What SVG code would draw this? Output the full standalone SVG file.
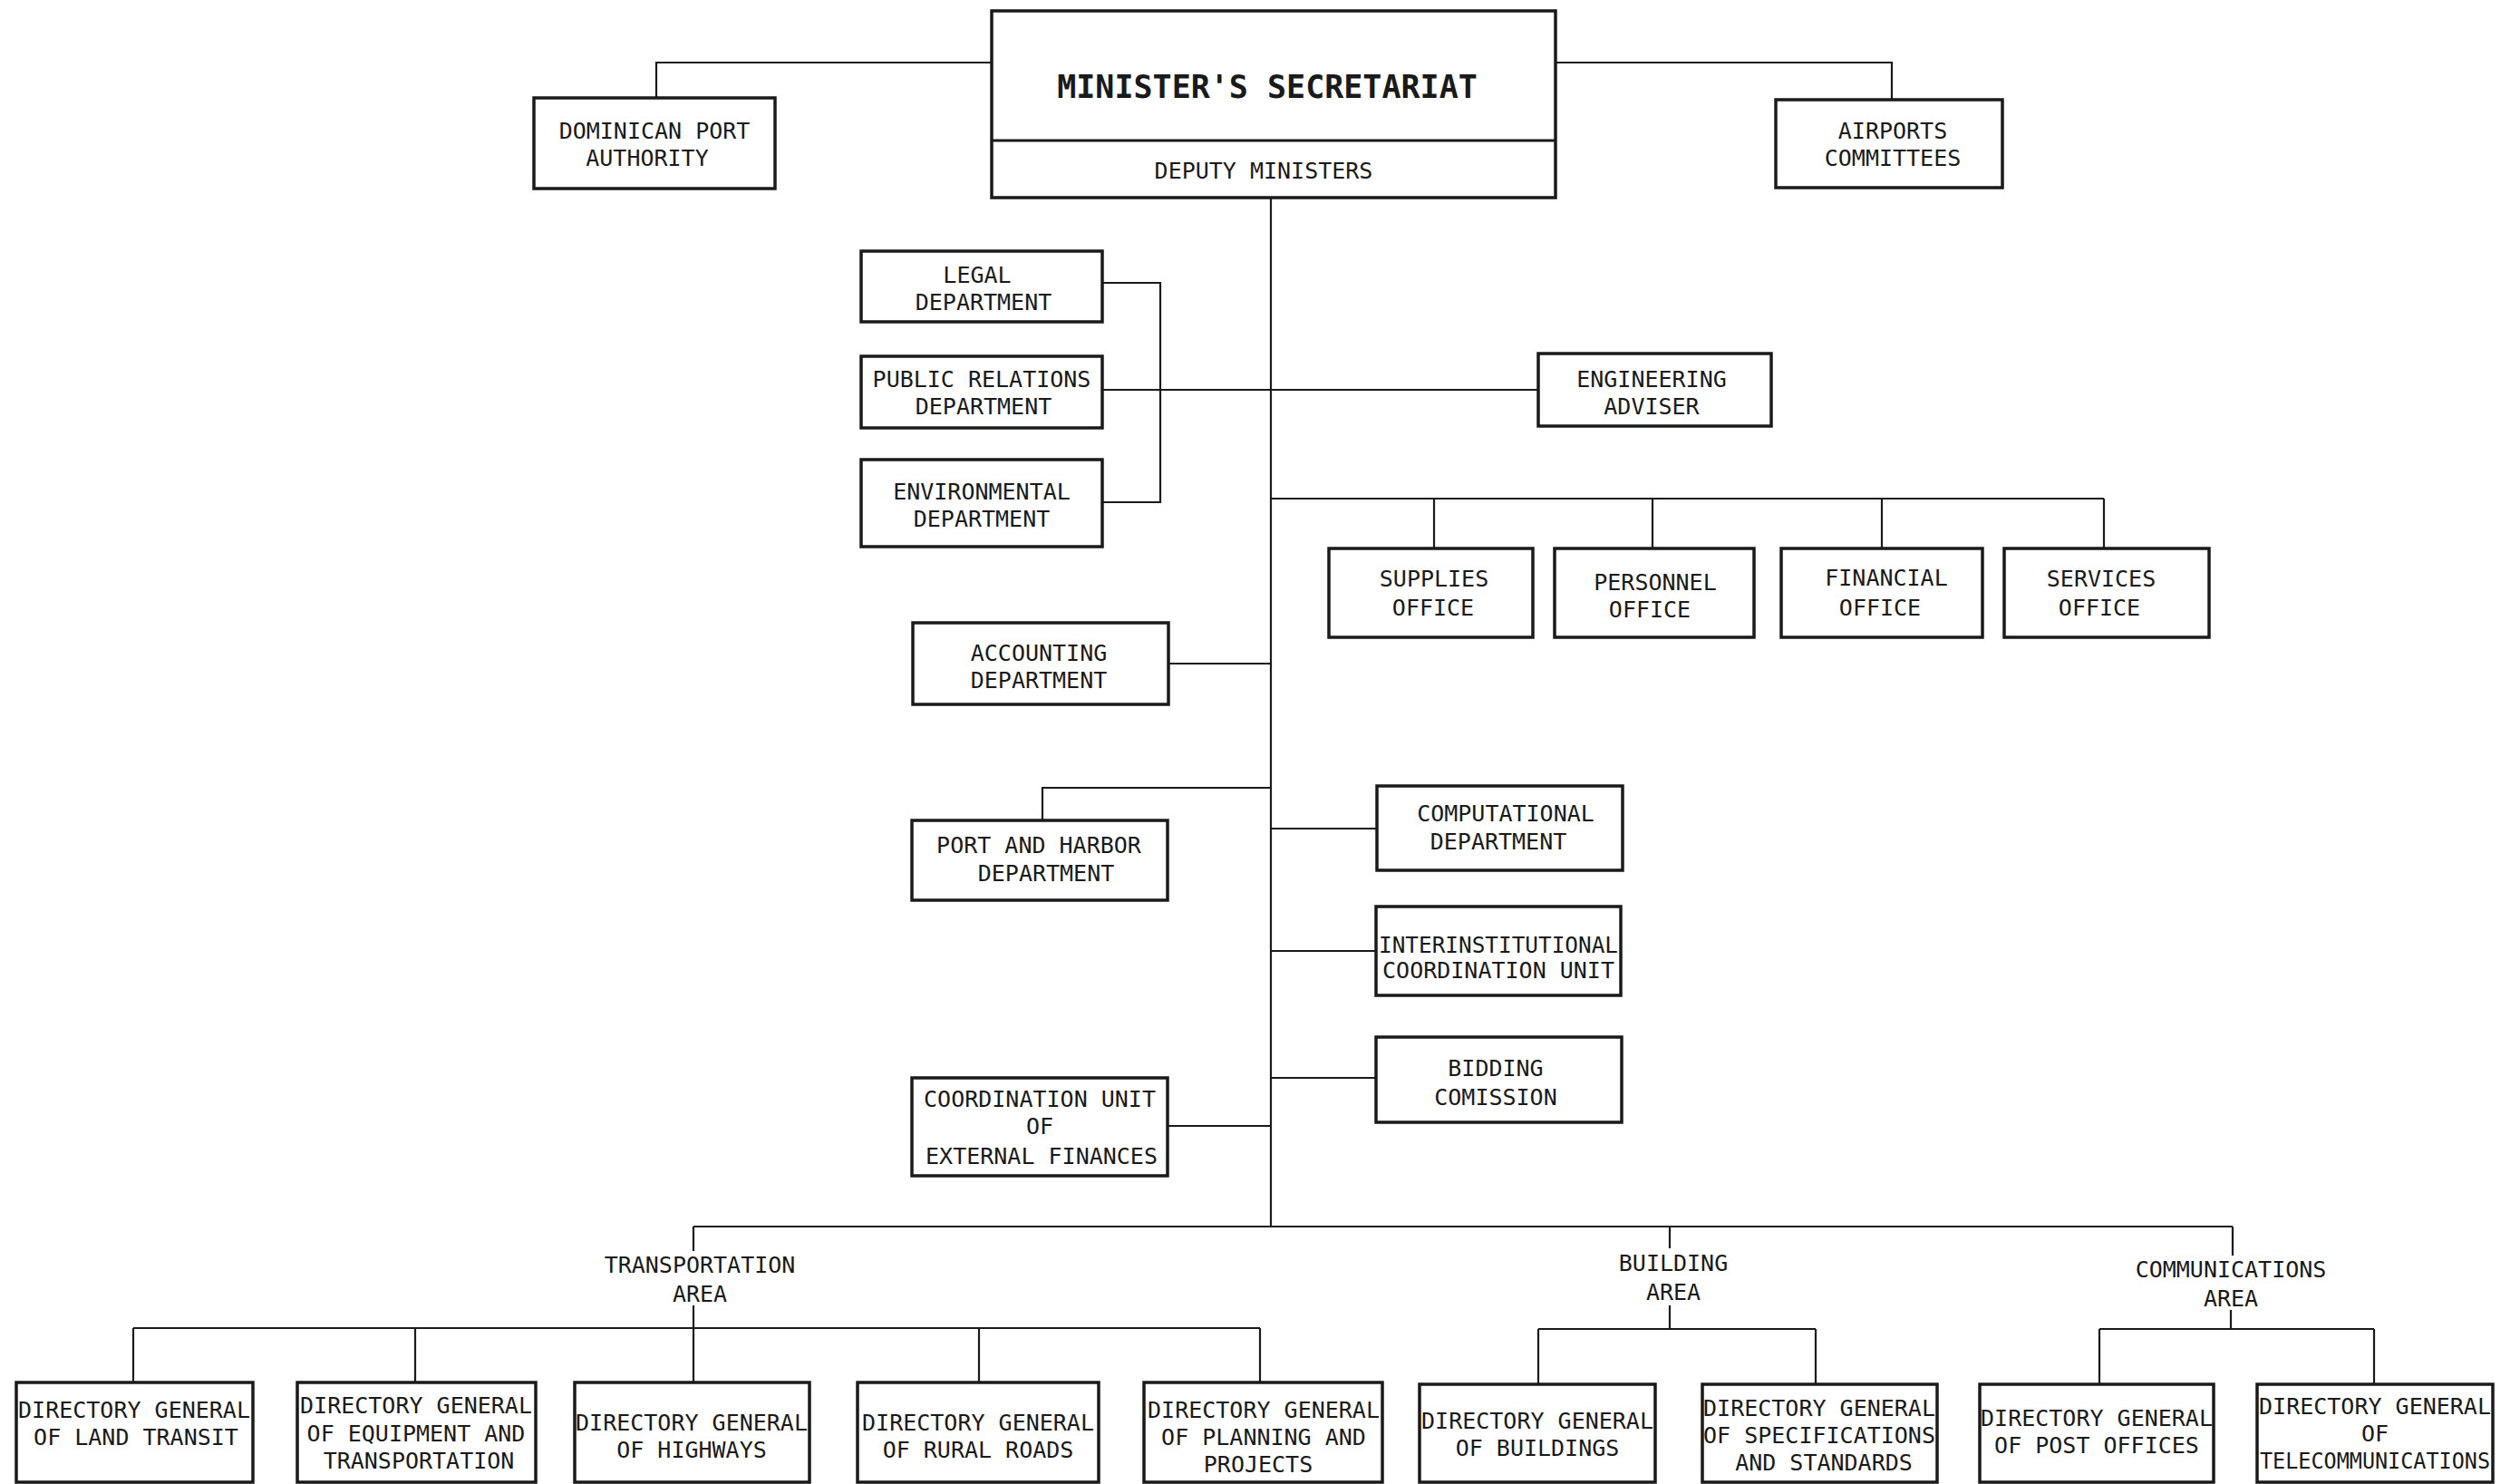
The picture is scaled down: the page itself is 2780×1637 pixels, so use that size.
<svg xmlns="http://www.w3.org/2000/svg" width="2780" height="1637" viewBox="0 0 2780 1637">
<style>
.box{fill:#fff;stroke:#1a1a1a;stroke-width:3.5}
.conn{fill:none;stroke:#1a1a1a;stroke-width:2.2}
.t{font-family:"DejaVu Sans Mono","Liberation Mono",monospace;font-size:25px;text-anchor:middle;fill:#1a1a1a}
.title{font-family:"DejaVu Sans Mono","Liberation Mono",monospace;font-size:35px;font-weight:bold;text-anchor:middle;fill:#1a1a1a}
</style>
<rect width="2780" height="1637" fill="#fff"/>
<g id="connectors">
<path class="conn" d="M1094 69 H724 V108"/>
<path class="conn" d="M1716 69 H2087 V110"/>
<path class="conn" d="M1402 218 V1353"/>
<path class="conn" d="M1216 312 H1280 V554 H1216"/>
<path class="conn" d="M1216 430 H1697"/>
<path class="conn" d="M1402 550 H2321"/>
<path class="conn" d="M1582 550 V605 M1823 550 V605 M2076 550 V605 M2321 550 V605"/>
<path class="conn" d="M1289 732 H1402"/>
<path class="conn" d="M1402 869 H1150 V905"/>
<path class="conn" d="M1402 914 H1519"/>
<path class="conn" d="M1402 1049 H1518"/>
<path class="conn" d="M1402 1189 H1518"/>
<path class="conn" d="M1288 1242 H1402"/>
<path class="conn" d="M765 1353 H2463"/>
<path class="conn" d="M765 1353 V1380 M765 1440 V1465"/>
<path class="conn" d="M1842 1353 V1377 M1842 1440 V1466"/>
<path class="conn" d="M2463 1353 V1385 M2461 1445 V1466"/>
<path class="conn" d="M147 1465 H1390"/>
<path class="conn" d="M147 1465 V1525 M458 1465 V1525 M765 1465 V1525 M1080 1465 V1525 M1390 1465 V1525"/>
<path class="conn" d="M1697 1466 H2003 M1697 1466 V1527 M2003 1466 V1527"/>
<path class="conn" d="M2316 1466 H2619 M2316 1466 V1527 M2619 1466 V1527"/>
</g>
<g id="minister">
<rect class="box" x="1094" y="12" width="622" height="206"/>
<line x1="1094" y1="155" x2="1716" y2="155" stroke="#1a1a1a" stroke-width="3"/>
<text class="title" x="1398" y="108">MINISTER'S SECRETARIAT</text>
<text class="t" x="1394" y="197">DEPUTY MINISTERS</text>
</g>
<g id="dominican">
<rect class="box" x="589" y="108" width="266" height="100"/>
<text class="t" x="722" y="153">DOMINICAN PORT</text>
<text class="t" x="714" y="183">AUTHORITY</text>
</g>
<g id="airports">
<rect class="box" x="1959" y="110" width="250" height="97"/>
<text class="t" x="2088" y="153">AIRPORTS</text>
<text class="t" x="2088" y="183">COMMITTEES</text>
</g>
<g id="legal">
<rect class="box" x="950" y="277" width="266" height="78"/>
<text class="t" x="1078" y="312">LEGAL</text>
<text class="t" x="1085" y="342">DEPARTMENT</text>
</g>
<g id="public-relations">
<rect class="box" x="950" y="393" width="266" height="79"/>
<text class="t" x="1083" y="427">PUBLIC RELATIONS</text>
<text class="t" x="1085" y="457">DEPARTMENT</text>
</g>
<g id="environmental">
<rect class="box" x="950" y="507" width="266" height="96"/>
<text class="t" x="1083" y="551">ENVIRONMENTAL</text>
<text class="t" x="1083" y="581">DEPARTMENT</text>
</g>
<g id="engineering">
<rect class="box" x="1697" y="390" width="257" height="80"/>
<text class="t" x="1822" y="427">ENGINEERING</text>
<text class="t" x="1822" y="457">ADVISER</text>
</g>
<g id="supplies">
<rect class="box" x="1466" y="605" width="225" height="98"/>
<text class="t" x="1582" y="647">SUPPLIES</text>
<text class="t" x="1581" y="679">OFFICE</text>
</g>
<g id="personnel">
<rect class="box" x="1715" y="605" width="220" height="98"/>
<text class="t" x="1826" y="651">PERSONNEL</text>
<text class="t" x="1820" y="681">OFFICE</text>
</g>
<g id="financial">
<rect class="box" x="1965" y="605" width="222" height="98"/>
<text class="t" x="2081" y="646">FINANCIAL</text>
<text class="t" x="2074" y="679">OFFICE</text>
</g>
<g id="services">
<rect class="box" x="2211" y="605" width="226" height="98"/>
<text class="t" x="2318" y="647">SERVICES</text>
<text class="t" x="2316" y="679">OFFICE</text>
</g>
<g id="accounting">
<rect class="box" x="1007" y="687" width="282" height="90"/>
<text class="t" x="1146" y="729">ACCOUNTING</text>
<text class="t" x="1146" y="759">DEPARTMENT</text>
</g>
<g id="port-harbor">
<rect class="box" x="1006" y="905" width="282" height="88"/>
<text class="t" x="1146" y="941">PORT AND HARBOR</text>
<text class="t" x="1154" y="972">DEPARTMENT</text>
</g>
<g id="computational">
<rect class="box" x="1519" y="867" width="271" height="93"/>
<text class="t" x="1661" y="906">COMPUTATIONAL</text>
<text class="t" x="1653" y="937">DEPARTMENT</text>
</g>
<g id="interinstitutional">
<rect class="box" x="1518" y="1000" width="270" height="98"/>
<text class="t" x="1653" y="1051" textLength="264" lengthAdjust="spacingAndGlyphs">INTERINSTITUTIONAL</text>
<text class="t" x="1653" y="1079">COORDINATION UNIT</text>
</g>
<g id="bidding">
<rect class="box" x="1518" y="1144" width="271" height="94"/>
<text class="t" x="1650" y="1187">BIDDING</text>
<text class="t" x="1650" y="1219">COMISSION</text>
</g>
<g id="coordination-external">
<rect class="box" x="1006" y="1189" width="282" height="108"/>
<text class="t" x="1147" y="1221">COORDINATION UNIT</text>
<text class="t" x="1147" y="1251">OF</text>
<text class="t" x="1149" y="1284">EXTERNAL FINANCES</text>
</g>
<g id="transportation-area">
<text class="t" x="772" y="1404">TRANSPORTATION</text>
<text class="t" x="772" y="1436">AREA</text>
</g>
<g id="building-area">
<text class="t" x="1846" y="1402">BUILDING</text>
<text class="t" x="1846" y="1434">AREA</text>
</g>
<g id="communications-area">
<text class="t" x="2461" y="1409">COMMUNICATIONS</text>
<text class="t" x="2461" y="1441">AREA</text>
</g>
<g id="dg-land-transit">
<rect class="box" x="18" y="1525" width="261" height="110"/>
<text class="t" x="148" y="1564">DIRECTORY GENERAL</text>
<text class="t" x="150" y="1594">OF LAND TRANSIT</text>
</g>
<g id="dg-equipment">
<rect class="box" x="328" y="1525" width="263" height="110"/>
<text class="t" x="459" y="1559">DIRECTORY GENERAL</text>
<text class="t" x="459" y="1590">OF EQUIPMENT AND</text>
<text class="t" x="462" y="1620">TRANSPORTATION</text>
</g>
<g id="dg-highways">
<rect class="box" x="634" y="1525" width="259" height="110"/>
<text class="t" x="763" y="1578">DIRECTORY GENERAL</text>
<text class="t" x="763" y="1608">OF HIGHWAYS</text>
</g>
<g id="dg-rural-roads">
<rect class="box" x="946" y="1525" width="266" height="110"/>
<text class="t" x="1079" y="1578">DIRECTORY GENERAL</text>
<text class="t" x="1079" y="1608">OF RURAL ROADS</text>
</g>
<g id="dg-planning">
<rect class="box" x="1262" y="1525" width="263" height="110"/>
<text class="t" x="1394" y="1564">DIRECTORY GENERAL</text>
<text class="t" x="1394" y="1594">OF PLANNING AND</text>
<text class="t" x="1388" y="1624">PROJECTS</text>
</g>
<g id="dg-buildings">
<rect class="box" x="1566" y="1527" width="260" height="108"/>
<text class="t" x="1696" y="1576">DIRECTORY GENERAL</text>
<text class="t" x="1696" y="1606">OF BUILDINGS</text>
</g>
<g id="dg-specifications">
<rect class="box" x="1878" y="1527" width="259" height="108"/>
<text class="t" x="2007" y="1562">DIRECTORY GENERAL</text>
<text class="t" x="2007" y="1592">OF SPECIFICATIONS</text>
<text class="t" x="2012" y="1622">AND STANDARDS</text>
</g>
<g id="dg-post-offices">
<rect class="box" x="2184" y="1527" width="258" height="108"/>
<text class="t" x="2313" y="1573">DIRECTORY GENERAL</text>
<text class="t" x="2313" y="1603">OF POST OFFICES</text>
</g>
<g id="dg-telecommunications">
<rect class="box" x="2490" y="1527" width="260" height="108"/>
<text class="t" x="2620" y="1560">DIRECTORY GENERAL</text>
<text class="t" x="2620" y="1590">OF</text>
<text class="t" x="2620" y="1620" textLength="254" lengthAdjust="spacingAndGlyphs">TELECOMMUNICATIONS</text>
</g>
</svg>
